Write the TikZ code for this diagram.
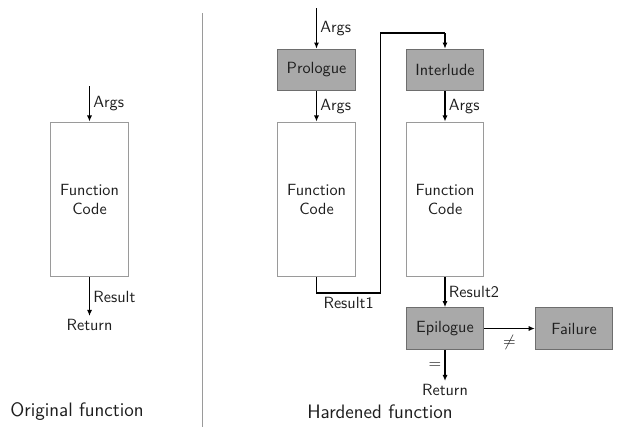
\documentclass[tikz,border=0pt]{standalone}
\usetikzlibrary{arrows.meta,positioning}
\definecolor{boxfill}{HTML}{A9A9A9}
\definecolor{boxdraw}{HTML}{6E6E6E}
\definecolor{codedraw}{HTML}{9A9A9A}
\definecolor{txt}{HTML}{1E1E1E}
\begin{document}
\begin{tikzpicture}[x=0.617pt,y=-0.617pt,
  font=\sffamily\fontsize{10}{12}\selectfont, text=txt,
  codebox/.style={draw=codedraw, line width=0.6pt, fill=white, minimum width=47.8pt, minimum height=95.6pt, align=center, inner sep=0pt},
  stagebox/.style={draw=boxdraw, line width=0.6pt, fill=boxfill, minimum width=47.8pt, minimum height=25.7pt, inner sep=0pt},
  conn/.style={draw=black, line width=0.8pt, -{Latex[length=3.8pt,width=3.2pt]}},
  plainconn/.style={draw=black, line width=0.8pt},
  lbl/.style={inner sep=2pt},
  title/.style={font=\sffamily\fontsize{12}{14}\selectfont}]
\useasboundingbox (0,0) rectangle (619,427);
\fill[white] (0,0) rectangle (619,427);

% ---------- original ----------
\node[codebox] (ofc) at (89.5,199.5) {Function\\Code};
\coordinate (oin) at (89.5,86);
\node[lbl, anchor=north] (oret) at (89.5,316) {Return};
\draw[conn] (oin) -- node[lbl, right] {Args} (ofc.north);
\draw[conn] (ofc.south) -- node[lbl, right] {Result} (oret.north);
\node[title] (otitle) at (77,412) {Original function};

% divider
\coordinate (dtop) at (202.5,13);
\coordinate (dbot) at (202.5,427);
\draw[codedraw, line width=1pt] (dtop) -- (dbot);

% ---------- hardened ----------
\node[stagebox] (pro) at (316.5,70) {Prologue};
\node[codebox] (fc1) at (316.5,199.5) {Function\\Code};
\node[stagebox] (il) at (445,70) {Interlude};
\node[codebox] (fc2) at (445,199.5) {Function\\Code};
\node[stagebox] (epi) at (445,328.5) {Epilogue};
\node[stagebox] (fail) at (574,328.5) {Failure};
\node[lbl, anchor=north] (hret) at (445,381) {Return};
\coordinate (hin) at (316.5,8);
\coordinate (r1a) at (316.5,293);
\coordinate (r1b) at (380.7,293);
\coordinate (r1c) at (380.7,33);
\coordinate (r1d) at (445,33);

\draw[conn] (hin) -- node[lbl, right] {Args} (pro.north);
\draw[conn] (pro.south) -- node[lbl, right] {Args} (fc1.north);
\draw[plainconn] (fc1.south) -- (r1a) -- node[lbl, below] {Result1} (r1b) -- (r1c) -- (r1d);
\draw[conn] (r1d) -- (il.north);
\draw[conn] (il.south) -- node[lbl, right] {Args} (fc2.north);
\draw[conn] (fc2.south) -- node[lbl, right] {Result2} (epi.north);
\draw[conn] (epi.east) -- node[lbl, below, yshift=-2pt] {$\neq$} (fail.west);
\draw[conn] (epi.south) -- node[lbl, left] {$=$} (hret.north);
\node[title] (htitle) at (380,412) {Hardened function};
\end{tikzpicture}
\end{document}
